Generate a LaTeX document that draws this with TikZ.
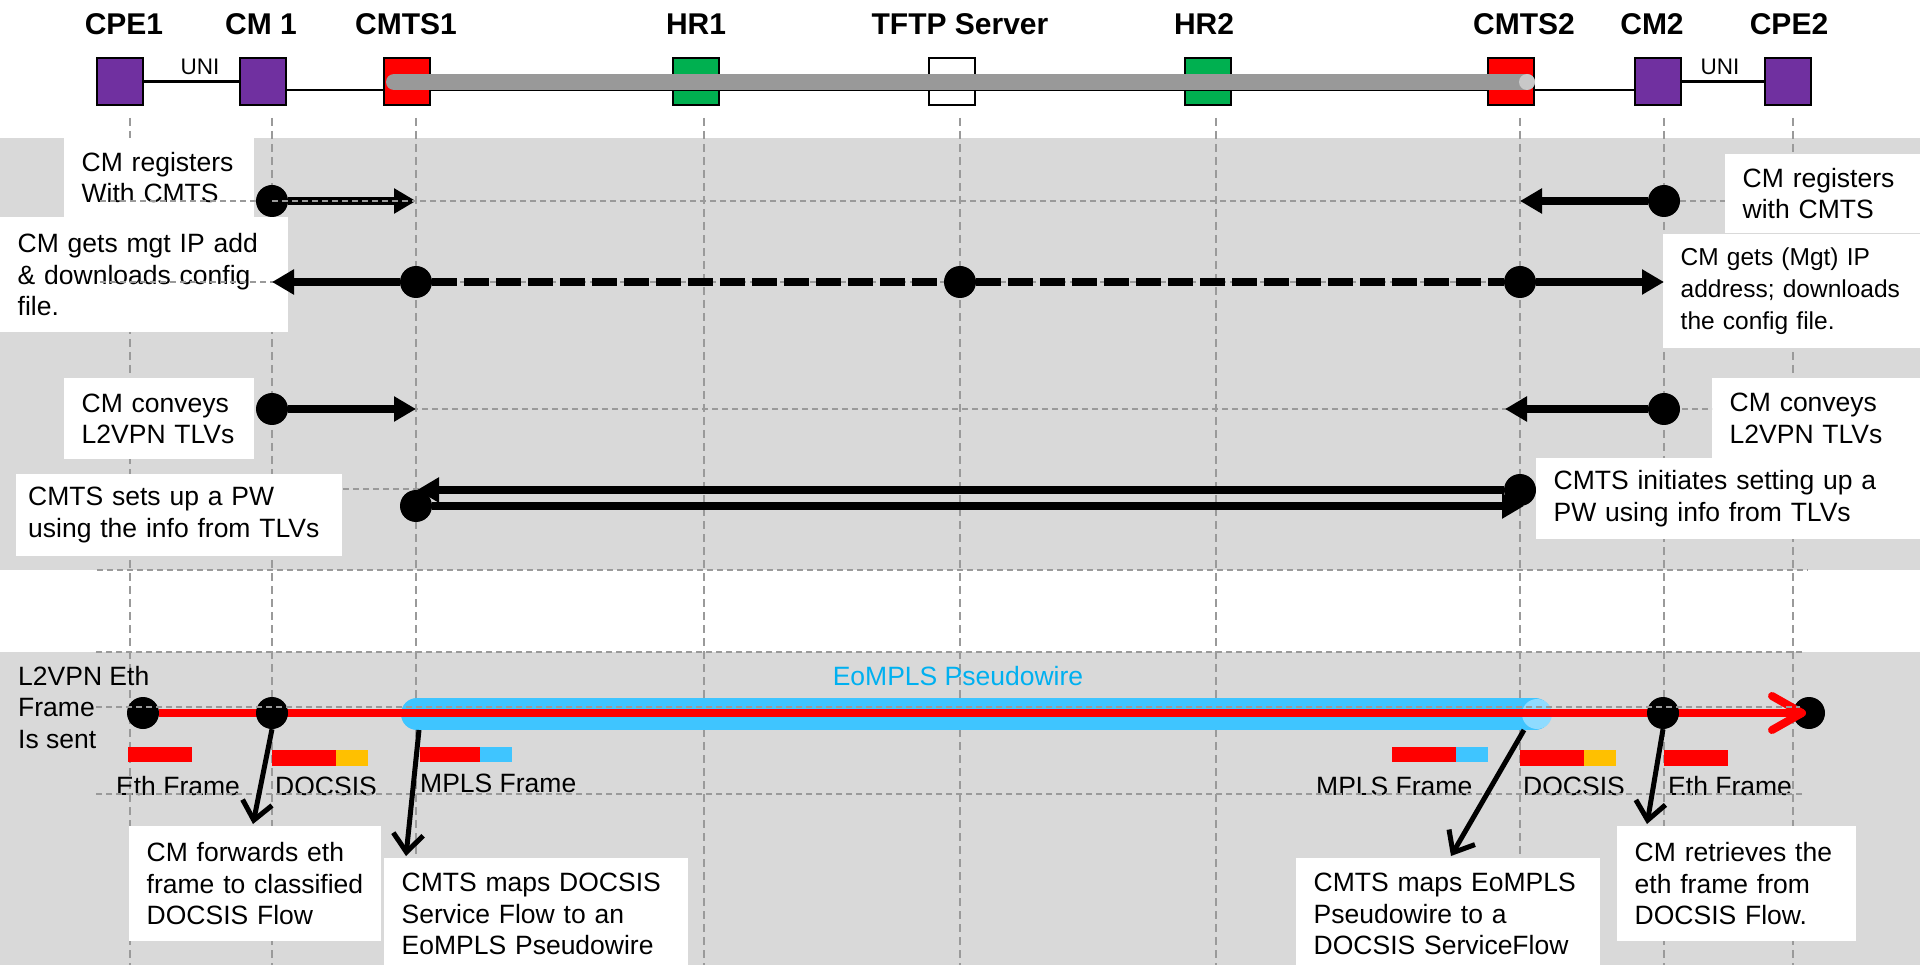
\documentclass[tikz,border=0pt]{standalone}
\usepackage{fontspec}
\setmainfont{Liberation Sans}
\usetikzlibrary{arrows.meta}

\definecolor{bandgray}{HTML}{D9D9D9}
\definecolor{gridgray}{HTML}{9A9A9A}
\definecolor{cmpurple}{HTML}{7030A0}
\definecolor{cmtsred}{HTML}{FF0000}
\definecolor{hrgreen}{HTML}{00B050}
\definecolor{pwblue}{HTML}{3FC5FF}
\definecolor{pwcap}{HTML}{8FDBFF}
\definecolor{pwlabel}{HTML}{00B0F0}
\definecolor{docsisyellow}{HTML}{FFC000}
\definecolor{pipegray}{HTML}{999999}
\definecolor{pipecap}{HTML}{C8C8C8}

\begin{document}
\begin{tikzpicture}[x=1pt,y=-1pt,
  devbox/.style={draw=black, line width=2pt, minimum width=46pt, minimum height=47pt, inner sep=0pt},
  devlabel/.style={font=\fontsize{30}{36}\selectfont\bfseries, anchor=base, inner sep=0pt},
  unilabel/.style={font=\fontsize{22.5}{27}\selectfont, anchor=base, inner sep=0pt},
  lifeline/.style={draw=gridgray, line width=1.8pt, dash pattern=on 8pt off 5pt},
  guide/.style={draw=gridgray, line width=1.8pt, dash pattern=on 6pt off 4pt},
  dot/.style={circle, fill=black, minimum size=32pt, inner sep=0pt},
  msg/.style={draw=black, line width=8pt, -{Triangle[length=22pt,width=24pt]}},
  dashmsg/.style={draw=black, line width=8pt, dash pattern=on 25pt off 7pt},
  pointer/.style={draw=black, line width=5pt, -{Straight Barb[length=18pt,width=30pt]}},
  redflow/.style={draw=red, line width=8pt, -{Straight Barb[length=30pt,width=34pt,line cap=round,line join=round]}},
  note/.style n args={3}{fill=white, align=left, anchor=north west, inner xsep=17.5pt, inner ysep=0pt,
    font=\fontsize{26.5}{31.5}\selectfont, minimum width=#1pt, minimum height=#2pt, text width=#3pt},
  plain/.style={font=\fontsize{26.5}{31.5}\selectfont, inner sep=0pt},
]
\useasboundingbox (0,0) rectangle (1920,965);

% shaded phases
\fill[bandgray] (0,138) rectangle (1920,570);
\fill[bandgray] (0,652) rectangle (1920,965);

% lifelines
\foreach \lx in {130,272,416,704,960,1216,1520,1664,1793}
  \draw[lifeline] (\lx,118) -- (\lx,965);

% ---------- network elements ----------
\node[devbox, fill=cmpurple] (cpe1) at (120,81.5) {};
\node[devbox, fill=cmpurple] (cm1) at (263,81.5) {};
\node[devbox, fill=cmtsred] (cmts1) at (407,81.5) {};
\node[devbox, fill=hrgreen] (hr1) at (696,81.5) {};
\node[devbox, fill=white] (tftp) at (952,81.5) {};
\node[devbox, fill=hrgreen] (hr2) at (1208,81.5) {};
\node[devbox, fill=cmtsred] (cmts2) at (1511,81.5) {};
\node[devbox, fill=cmpurple] (cm2) at (1658,81.5) {};
\node[devbox, fill=cmpurple] (cpe2) at (1788,81.5) {};

\node[devlabel] (lcpe1) at (124,35) {CPE1};
\node[devlabel] (lcm1) at (261,35) {CM 1};
\node[devlabel] (lcmts1) at (406,35) {CMTS1};
\node[devlabel] (lhr1) at (696,35) {HR1};
\node[devlabel] (ltftp) at (960,35) {TFTP Server};
\node[devlabel] (lhr2) at (1204,35) {HR2};
\node[devlabel] (lcmts2) at (1524,35) {CMTS2};
\node[devlabel] (lcm2) at (1652,35) {CM2};
\node[devlabel] (lcpe2) at (1789,35) {CPE2};

% access links
\draw[line width=3.5pt] (cpe1.east) -- (cm1.west);
\draw[line width=3.5pt] (cm2.east) -- (cpe2.west);
\node[unilabel] (uni1) at (200,75) {UNI};
\node[unilabel] (uni2) at (1720,75) {UNI};

% cable plant and backbone pipe
\draw[line width=2pt] ([yshift=-8.5pt]cm1.east) -- ([yshift=-8.5pt]cmts1.west);
\draw[line width=2pt] ([yshift=-8.5pt]cmts1.east) -- ([yshift=-8.5pt]cmts2.west);
\draw[line width=2pt] ([yshift=-8.5pt]cmts2.east) -- ([yshift=-8.5pt]cm2.west);
\draw[pipegray, line width=16pt, line cap=round] ([xshift=-13pt,yshift=-0.5pt]cmts1.center) -- ([xshift=16pt,yshift=-0.5pt]cmts2.center);
\fill[pipecap] ([xshift=16pt,yshift=-0.5pt]cmts2.center) circle (8pt);

% ---------- provisioning phase ----------
\node[note={190}{79}{155}] (n1l) at (64,138) {CM registers\\With CMTS};
\node[note={288}{115}{253}] (n2l) at (0,217) {CM gets mgt IP add\\\& downloads config\\file.};
\node[note={190}{81}{155}] (n3l) at (64,378) {CM conveys\\L2VPN TLVs};
\node[note={326}{82}{302}, inner xsep=12pt] (n4l) at (16,474) {CMTS sets up a PW\\using the info from TLVs};
\node[note={195}{79}{160}] (n1r) at (1725,154) {CM registers\\with CMTS};
\node[note={275}{114}{240}, font=\fontsize{24.5}{32}\selectfont] (n2r) at (1663,234) {CM gets (Mgt) IP\\address; downloads\\the config file.};
\node[note={208}{80}{173}] (n3r) at (1712,378) {CM conveys\\L2VPN TLVs};
\node[note={384}{81}{349}] (n4r) at (1536,458) {CMTS initiates setting up a\\PW using info from TLVs};

% row guides
\draw[guide] (100,201) -- (1725,201);
\draw[guide] (100,282) -- (1663,282);
\draw[guide] (272,409) -- (1712,409);
\draw[guide] (343,489) -- (1520,489);
\draw[guide] (97,570) -- (1808,570);
\draw[guide] (96,652) -- (1805,652);

% registration
\node[dot] (d1l) at (272,201) {};
\node[dot] (d1r) at (1664,201) {};
\coordinate (t1l) at (416,201);
\coordinate (t1r) at (1520,201);
\draw[msg] (d1l) -- (t1l);
\draw[msg] (d1r) -- (t1r);
\draw[guide] (d1l.center) -- (t1l);

% address and config download
\node[dot] (d2a) at (416,282) {};
\node[dot] (d2b) at (960,282) {};
\node[dot] (d2c) at (1520,282) {};
\coordinate (t2l) at (272,282);
\coordinate (t2r) at (1664,282);
\draw[dashmsg] (d2a) -- (d2b) -- (d2c);
\draw[msg] (d2a) -- (t2l);
\draw[msg] (d2c) -- (t2r);

% L2VPN TLVs
\node[dot] (d3l) at (272,409) {};
\node[dot] (d3r) at (1664,409) {};
\coordinate (t3l) at (416,409);
\coordinate (t3r) at (1505,409);
\draw[msg] (d3l) -- (t3l);
\draw[msg] (d3r) -- (t3r);

% pseudowire signalling
\node[dot] (d4a) at (416,506) {};
\node[dot] (d4b) at (1520,490) {};
\coordinate (t4u) at (417,490);
\coordinate (t4d) at (1524,506);
\draw[msg] (d4b) -- (t4u);
\draw[msg] (d4a) -- (t4d);

% ---------- forwarding phase ----------
\node[plain, align=left, anchor=north west] (sent) at (18,666) {L2VPN Eth\\Frame\\Is sent};
\node[plain, anchor=base, text=pwlabel] (pwlab) at (958,685) {EoMPLS Pseudowire};

\coordinate (pwa) at (417,714);
\coordinate (pwb) at (1535,714);
\draw[pwblue, line width=32pt, line cap=round] (pwa) -- (pwb);
\fill[pwcap] (1537,714) circle (15pt);

\node[dot] (snd) at (143,713) {};
\node[dot] (rcv) at (1809,713) {};
\coordinate (redtip) at (1806,713);
\draw[redflow] (snd) -- (redtip);
\node[dot] (dcm1) at (272,713) {};
\node[dot] (dcm2) at (1663,713) {};
\draw[guide] (96,707) -- (1800,707);

% frame formats
\fill[cmtsred] (128,747) rectangle (192,762);
\fill[cmtsred] (272,750) rectangle (336,766);
\fill[docsisyellow] (336,750) rectangle (368,766);
\fill[cmtsred] (420,747) rectangle (480,762);
\fill[pwblue] (480,747) rectangle (512,762);
\fill[cmtsred] (1392,747) rectangle (1456,762);
\fill[pwblue] (1456,747) rectangle (1488,762);
\fill[cmtsred] (1520,750) rectangle (1584,766);
\fill[docsisyellow] (1584,750) rectangle (1616,766);
\fill[cmtsred] (1664,750) rectangle (1728,766);

\node[plain, anchor=base west] (lef) at (116,795) {Eth Frame};
\node[plain, anchor=base west] (ldl) at (275,795) {DOCSIS};
\node[plain, anchor=base west] (lml) at (420,792) {MPLS Frame};
\node[plain, anchor=base west] (lmr) at (1316,795) {MPLS Frame};
\node[plain, anchor=base west] (ldr) at (1523,795) {DOCSIS};
\node[plain, anchor=base west] (ler) at (1668,795) {Eth Frame};
\draw[guide] (96,794) -- (1805,794);

% explanations
\node[note={252}{115}{217}] (c1) at (129,826) {CM forwards eth\\frame to classified\\DOCSIS Flow};
\node[note={304}{112}{269}] (c2) at (384,858) {CMTS maps DOCSIS\\Service Flow to an\\EoMPLS Pseudowire};
\node[note={304}{112}{269}] (c3) at (1296,858) {CMTS maps EoMPLS\\Pseudowire to a\\DOCSIS ServiceFlow};
\node[note={239}{115}{204}] (c4) at (1617,826) {CM retrieves the\\eth frame from\\DOCSIS Flow.};

\coordinate (p1end) at (253,824);
\coordinate (p2start) at (419,730);
\coordinate (p2end) at (406,856);
\coordinate (p3start) at (1524,730);
\coordinate (p3end) at (1451,856);
\coordinate (p4end) at (1647,824);
\draw[pointer] (dcm1.south) -- (p1end);
\draw[pointer] (p2start) -- (p2end);
\draw[pointer] (p3start) -- (p3end);
\draw[pointer] (dcm2.south) -- (p4end);
\end{tikzpicture}
\end{document}
